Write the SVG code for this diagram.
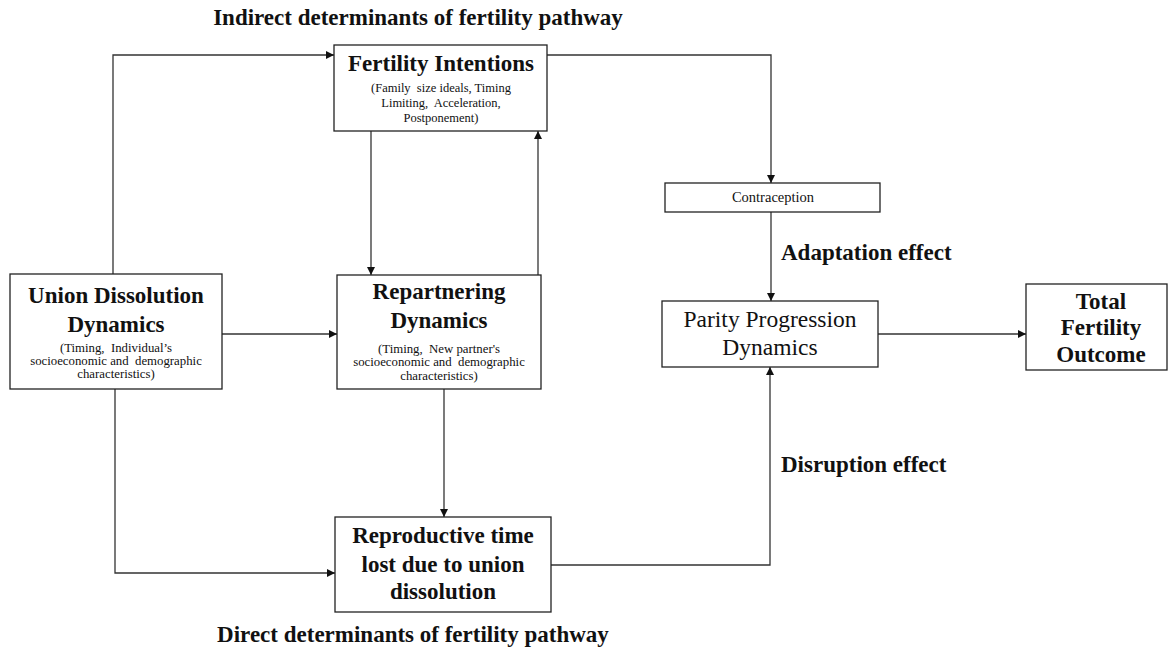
<svg xmlns="http://www.w3.org/2000/svg" width="1172" height="658" viewBox="0 0 1172 658">
<defs>
<marker id="arr" viewBox="0 0 10 10" refX="10" refY="5" markerWidth="8" markerHeight="8" markerUnits="userSpaceOnUse" orient="auto">
<path d="M0,0 L10,5 L0,10 z" fill="#111"/>
</marker>
<style>
.box{fill:#fff;stroke:#222;stroke-width:1.3}
.ln{fill:none;stroke:#333;stroke-width:1.3;marker-end:url(#arr)}
.t{font-family:"Liberation Serif","Times New Roman",serif;fill:#111;text-anchor:middle;white-space:pre}
.h{font-weight:bold;font-size:23px}
.s{font-size:12.8px}
.lab{font-family:"Liberation Serif","Times New Roman",serif;font-weight:bold;font-size:23px;fill:#111}
</style>
</defs>
<rect width="1172" height="658" fill="#fff"/>
<g id="connectors">
<path class="ln" d="M113,274 V55 H334"/>
<path class="ln" d="M547,55 H771 V183"/>
<path class="ln" d="M371,131 V275"/>
<path class="ln" d="M538,275 V131"/>
<path class="ln" d="M222,334 H337"/>
<path class="ln" d="M115,389 V573 H335"/>
<path class="ln" d="M444,389 V517"/>
<path class="ln" d="M551,565 H770 V367"/>
<path class="ln" d="M771,212 V301"/>
<path class="ln" d="M878,334 H1026"/>
</g>
<text class="lab" x="418" y="25" text-anchor="middle">Indirect determinants of fertility pathway</text>
<text class="lab" x="413" y="642" text-anchor="middle">Direct determinants of fertility pathway</text>
<text class="lab" x="781" y="260">Adaptation effect</text>
<text class="lab" x="781" y="472">Disruption effect</text>
<g id="fertility-intentions">
<rect class="box" x="334" y="45" width="213" height="86"/>
<text class="t h" x="441" y="71">Fertility Intentions</text>
<text class="t" font-size="12.5" x="441" y="92">(Family  size ideals, Timing</text>
<text class="t" font-size="12.5" x="441" y="107">Limiting,  Acceleration,</text>
<text class="t" font-size="12.5" x="441" y="122">Postponement)</text>
</g>
<g id="union-dissolution">
<rect class="box" x="10" y="274" width="212" height="115"/>
<text class="t h" x="116" y="303">Union Dissolution</text>
<text class="t h" x="116" y="332">Dynamics</text>
<text class="t s" x="116" y="352">(Timing,  Individual’s</text>
<text class="t s" x="116" y="365">socioeconomic and  demographic</text>
<text class="t s" x="116" y="378">characteristics)</text>
</g>
<g id="repartnering">
<rect class="box" x="337" y="275" width="204" height="114"/>
<text class="t h" x="439" y="299">Repartnering</text>
<text class="t h" x="439" y="328">Dynamics</text>
<text class="t s" x="439" y="353">(Timing,  New partner's</text>
<text class="t s" x="439" y="366">socioeconomic and  demographic</text>
<text class="t s" x="439" y="380">characteristics)</text>
</g>
<g id="reproductive-time">
<rect class="box" x="335" y="517" width="216" height="95"/>
<text class="t h" x="443" y="543">Reproductive time</text>
<text class="t h" x="443" y="572">lost due to union</text>
<text class="t h" x="443" y="599">dissolution</text>
</g>
<g id="contraception">
<rect class="box" x="665" y="183" width="215" height="29"/>
<text class="t" font-size="14.5" x="773" y="202">Contraception</text>
</g>
<g id="parity-progression">
<rect class="box" x="662" y="301" width="216" height="66"/>
<text class="t" font-size="23.5" x="770" y="327">Parity Progression</text>
<text class="t" font-size="23.5" x="770" y="355">Dynamics</text>
</g>
<g id="total-fertility">
<rect class="box" x="1026" y="284" width="141" height="86"/>
<text class="t h" font-size="23.5" x="1101" y="309">Total</text>
<text class="t h" font-size="23.5" x="1101" y="335">Fertility</text>
<text class="t h" font-size="23.5" x="1101" y="362">Outcome</text>
</g>
</svg>
